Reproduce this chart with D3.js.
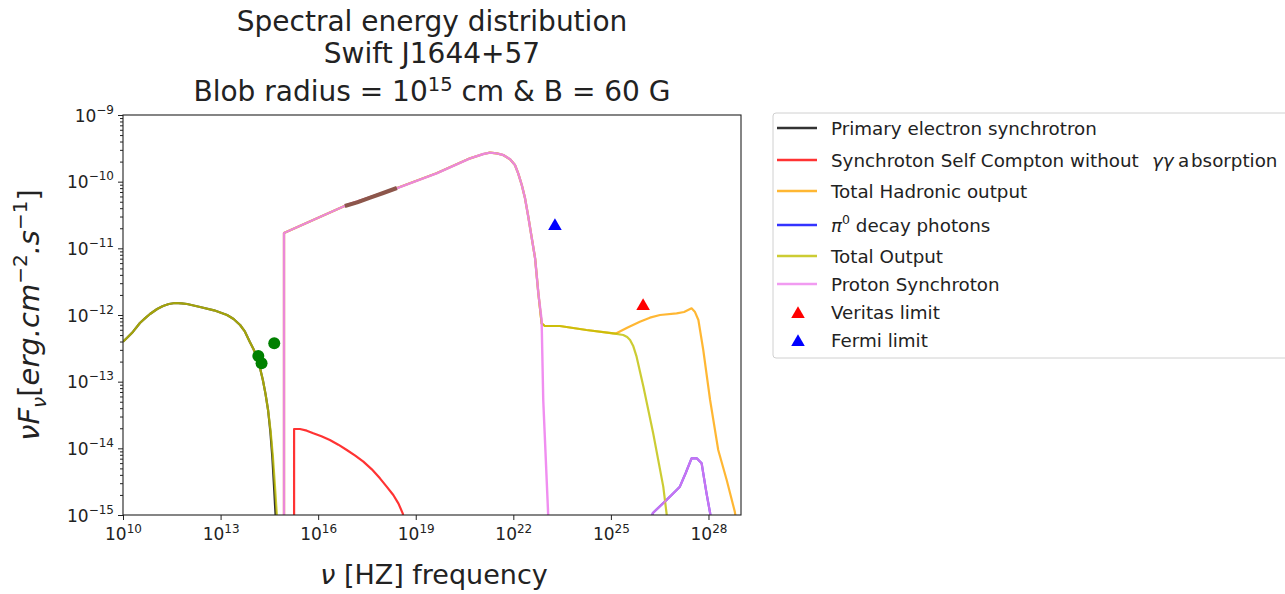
<!DOCTYPE html>
<html><head><meta charset="utf-8">
<script src="https://cdn.jsdelivr.net/npm/d3@7"></script>
<style>body{margin:0;background:#fff;} text{font-family:"DejaVu Sans",sans-serif;fill:#222;}</style>
</head><body>
<svg id="c" width="1285" height="594"></svg>
<script>
// ---- data (log10 frequency [Hz], log10 nuFnu [erg cm^-2 s^-1]) ----
const electronSyncLogNu = [10.00,10.15,10.31,10.52,10.70,10.83,11.05,11.23,11.41,11.60,11.80,11.97,12.37,12.80,13.20,13.40,13.60,13.75,13.90,14.01,14.12,14.21,14.30,14.38,14.46,14.53,14.59,14.64,14.69,14.75];
const electronSyncLogF  = [-12.40,-12.33,-12.25,-12.12,-12.04,-11.985,-11.91,-11.865,-11.835,-11.82,-11.825,-11.835,-11.88,-11.93,-12.00,-12.06,-12.15,-12.25,-12.405,-12.51,-12.63,-12.79,-12.975,-13.18,-13.425,-13.75,-14.13,-14.55,-15.0,-15.6];

const sscLogNu = [15.26,15.26,15.44,15.65,15.85,16.10,16.36,16.62,16.88,17.14,17.39,17.65,17.90,18.10,18.31,18.47,18.60,18.64];
const sscLogF  = [-15.3,-13.71,-13.71,-13.735,-13.775,-13.82,-13.875,-13.945,-14.025,-14.11,-14.20,-14.315,-14.45,-14.57,-14.70,-14.83,-14.975,-15.075];

const hadronicLogNu = [14.95,14.95,16.88,18.41,19.64,20.67,21.08,21.28,21.49,21.69,21.90,22.05,22.15,22.26,22.36,22.46,22.56,22.67,22.77,22.87,22.97,23.43,24.25,25.07,25.17,25.50,25.89,26.20,26.51,27.02,27.25,27.48,27.58,27.69,27.84,28.05,28.30,28.56,28.81,28.87];
const hadronicLogF  = [-15.5,-10.77,-10.35,-10.10,-9.875,-9.65,-9.585,-9.565,-9.575,-9.60,-9.665,-9.75,-9.875,-10.05,-10.25,-10.525,-10.825,-11.15,-11.675,-12.125,-12.165,-12.165,-12.225,-12.275,-12.275,-12.19,-12.10,-12.04,-12.00,-11.975,-11.955,-11.90,-11.95,-12.075,-12.525,-13.275,-14.025,-14.475,-14.95,-15.15];

const pionLogNu = [26.20,26.29,26.71,27.12,27.30,27.48,27.64,27.79,27.94,28.05,28.08];
const pionLogF  = [-15.15,-14.97,-14.775,-14.575,-14.37,-14.15,-14.15,-14.225,-14.675,-14.97,-15.1];

const totalLogNu = [10.00,10.15,10.31,10.52,10.70,10.83,11.05,11.23,11.41,11.60,11.80,11.97,12.37,12.80,13.20,13.40,13.60,13.75,13.90,14.01,14.12,14.21,14.30,14.38,14.46,14.54,14.61,14.67,14.73,14.80,14.95,14.95,16.88,18.41,19.64,20.67,21.08,21.28,21.49,21.69,21.90,22.05,22.15,22.26,22.36,22.46,22.56,22.67,22.77,22.87,22.97,23.43,24.25,25.07,25.38,25.50,25.59,25.69,25.79,26.00,26.30,26.61,26.71,26.75];
const totalLogF  = [-12.40,-12.33,-12.25,-12.12,-12.04,-11.985,-11.91,-11.865,-11.835,-11.82,-11.825,-11.835,-11.88,-11.93,-12.00,-12.06,-12.15,-12.25,-12.405,-12.51,-12.63,-12.79,-12.975,-13.18,-13.425,-13.75,-14.13,-14.55,-15.0,-15.7,-16.5,-10.77,-10.35,-10.10,-9.875,-9.65,-9.585,-9.565,-9.575,-9.60,-9.665,-9.75,-9.875,-10.05,-10.25,-10.525,-10.825,-11.15,-11.675,-12.125,-12.165,-12.165,-12.225,-12.275,-12.30,-12.33,-12.375,-12.47,-12.625,-13.075,-13.775,-14.575,-14.97,-15.15];

const protonLogNu = [14.95,14.95,16.88,18.41,19.64,20.67,21.08,21.28,21.49,21.69,21.90,22.05,22.15,22.26,22.36,22.46,22.56,22.67,22.77,22.87,22.92,23.07,23.10];
const protonLogF  = [-15.5,-10.77,-10.35,-10.10,-9.875,-9.65,-9.585,-9.565,-9.575,-9.60,-9.665,-9.75,-9.875,-10.05,-10.25,-10.525,-10.825,-11.15,-11.675,-12.075,-13.275,-14.975,-15.4];

const xrayLogNu = [16.82,17.2,17.6,18.0,18.42];
const xrayLogF  = [-10.365,-10.31,-10.24,-10.17,-10.095];

const opticalLogNu = [14.16,14.26,14.65];
const opticalLogF  = [-12.615,-12.725,-12.425];

const veritasLogNu = [25.99], veritasLogF = [-11.865];
const fermiLogNu = [23.28], fermiLogF = [-10.665];

const xTickExps = [10,13,16,19,22,25,28];
const yTickExps = [-9,-10,-11,-12,-13,-14,-15];

const legendLabels = ["Primary electron synchrotron","Synchroton Self Compton without  γγ absorption","Total Hadronic output","π0 decay photons","Total Output","Proton Synchroton","Veritas limit","Fermi limit"];

// ---- layout ----
const L = 123, R = 741, T = 115, B = 515;
const svg = d3.select("#c");
const x = d3.scaleLog().domain([1e10, 1e29]).range([L, R]);
const y = d3.scaleLog().domain([1e-15, 1e-9]).range([B, T]);

const pts = (nu, f) => nu.map((v, i) => [Math.pow(10, v), Math.pow(10, f[i])]);

svg.append("defs").append("clipPath").attr("id","clip")
  .append("rect").attr("x",L).attr("y",T).attr("width",R-L).attr("height",B-T);

const line = d3.line().x(d => x(d[0])).y(d => y(d[1]));
const plot = svg.append("g").attr("clip-path","url(#clip)");
function drawLine(data, color, w, op) {
  plot.append("path").attr("d", line(data)).attr("fill","none")
    .attr("stroke", color).attr("stroke-width", w).attr("stroke-opacity", op)
    .attr("stroke-linejoin","round").attr("stroke-linecap","butt");
}
const C = {black:"#000000", red:"#ff0000", orange:"#ffa500", blue:"#0000ff", yel:"#bfbf00", pink:"#ee82ee"};
drawLine(pts(electronSyncLogNu, electronSyncLogF), C.black, 2.2, 0.8);
drawLine(pts(sscLogNu, sscLogF), C.red, 2.2, 0.8);
drawLine(pts(hadronicLogNu, hadronicLogF), C.orange, 2.2, 0.8);
drawLine(pts(pionLogNu, pionLogF), C.blue, 2.2, 0.8);
drawLine(pts(totalLogNu, totalLogF), C.yel, 2.2, 0.8);
drawLine(pts(protonLogNu, protonLogF), C.pink, 2.4, 0.9);
drawLine(pts(pionLogNu, pionLogF), C.pink, 2.2, 0.8);
drawLine(pts(xrayLogNu, xrayLogF), "#8c564b", 4, 1);

plot.selectAll("circle.opt").data(pts(opticalLogNu, opticalLogF)).enter().append("circle")
  .attr("cx", d => x(d[0])).attr("cy", d => y(d[1])).attr("r", 6).attr("fill", "#008000");

const tri = d3.symbol().type(d3.symbolTriangle).size(80);
svg.selectAll("path.ver").data(pts(veritasLogNu, veritasLogF)).enter().append("path")
  .attr("d", tri).attr("transform", d => `translate(${x(d[0])},${y(d[1])})`).attr("fill","red");
svg.selectAll("path.fer").data(pts(fermiLogNu, fermiLogF)).enter().append("path")
  .attr("d", tri).attr("transform", d => `translate(${x(d[0])},${y(d[1])})`).attr("fill","blue");

// ---- axes ----
const xAxis = d3.axisBottom(x).tickValues(xTickExps.map(e => Math.pow(10, e))).tickSize(5).tickFormat("");
const gx = svg.append("g").attr("transform", `translate(0,${B})`).call(xAxis);
gx.select(".domain").remove();
gx.selectAll("line").attr("stroke","#222");
gx.selectAll(".tick").each(function(d, i) {
  const t = d3.select(this).append("text").attr("y", 25).attr("text-anchor","middle").attr("fill","#222").attr("font-size",17);
  t.append("tspan").text("10");
  t.append("tspan").attr("dy",-7).attr("font-size",12).text(xTickExps[i]);
});

const yMinor = [];
for (let e = -15; e < -9; e++) for (let k = 2; k <= 9; k++) yMinor.push(k * Math.pow(10, e));
const gym = svg.append("g").attr("transform", `translate(${L},0)`)
  .call(d3.axisLeft(y).tickValues(yMinor).tickSize(3).tickFormat(""));
gym.select(".domain").remove();
gym.selectAll("line").attr("stroke","#222");

const gy = svg.append("g").attr("transform", `translate(${L},0)`)
  .call(d3.axisLeft(y).tickValues(yTickExps.map(e => Math.pow(10, e))).tickSize(5).tickFormat(""));
gy.select(".domain").remove();
gy.selectAll("line").attr("stroke","#222");
gy.selectAll(".tick").each(function(d, i) {
  const t = d3.select(this).append("text").attr("x", -9).attr("y", 6).attr("text-anchor","end").attr("fill","#222").attr("font-size",17);
  t.append("tspan").text("10");
  t.append("tspan").attr("dy",-8).attr("font-size",12).text("\u2212" + Math.abs(yTickExps[i]));
});

svg.append("rect").attr("x",L).attr("y",T).attr("width",R-L).attr("height",B-T)
  .attr("fill","none").attr("stroke","#222").attr("stroke-width",1.1);

// ---- titles ----
const cx = (L + R) / 2;
svg.append("text").attr("x",cx).attr("y",31).attr("text-anchor","middle").attr("font-size",28).text("Spectral energy distribution");
svg.append("text").attr("x",cx).attr("y",63).attr("text-anchor","middle").attr("font-size",28).text("Swift J1644+57");
const t3 = svg.append("text").attr("x",cx).attr("y",101).attr("text-anchor","middle").attr("font-size",28);
t3.append("tspan").text("Blob radius = 10");
t3.append("tspan").attr("dy",-10).attr("font-size",19.5).text("15");
t3.append("tspan").attr("dy",10).text(" cm & B = 60 G");

const xl = svg.append("text").attr("x",cx + 2).attr("y",584).attr("text-anchor","middle").attr("font-size",27);
xl.append("tspan").attr("font-style","italic").text("ν");
xl.append("tspan").text(" [HZ] frequency");

const yl = svg.append("text").attr("transform","translate(39,315) rotate(-90)").attr("text-anchor","middle").attr("font-size",29).attr("font-style","italic");
yl.append("tspan").text("νF");
yl.append("tspan").attr("dy",7).attr("font-size",20).text("ν");
yl.append("tspan").attr("dy",-7).attr("font-style","normal").text("[");
yl.append("tspan").text("erg.cm");
yl.append("tspan").attr("dy",-12).attr("font-size",20).attr("font-style","normal").text("\u22122");
yl.append("tspan").attr("dy",12).text(".s");
yl.append("tspan").attr("dy",-12).attr("font-size",20).attr("font-style","normal").text("\u22121");
yl.append("tspan").attr("dy",12).attr("font-style","normal").text("]");

// ---- legend ----
const lg = svg.append("g");
lg.append("rect").attr("x",773).attr("y",113).attr("width",530).attr("height",245).attr("rx",3)
  .attr("fill","#fff").attr("stroke","#d0d0d0").attr("stroke-width",1);
const legRowY = [128,160,191,225,256,284,312,340];
const legColors = [C.black, C.red, C.orange, C.blue, C.yel, C.pink];
legendLabels.forEach((lab, i) => {
  const yy = legRowY[i];
  if (i < 6) {
    lg.append("line").attr("x1",777).attr("x2",817).attr("y1",yy).attr("y2",yy)
      .attr("stroke", legColors[i]).attr("stroke-width",2.6).attr("stroke-opacity",0.8);
  } else {
    lg.append("path").attr("d", tri).attr("transform",`translate(798,${yy+2})`).attr("fill", i === 6 ? "red" : "blue");
  }
  const t = lg.append("text").attr("x",831).attr("y",yy+6.5).attr("font-size",18.3);
  if (i === 1) {
    t.append("tspan").text("Synchroton Self Compton without");
    t.append("tspan").attr("x",1152).attr("font-style","italic").text("γγ");
    t.append("tspan").attr("x",1178).text("a");
    t.append("tspan").attr("x",1191).text("bsorption");
  } else if (i === 3) {
    t.append("tspan").attr("font-style","italic").text("π");
    t.append("tspan").attr("dy",-8).attr("font-size",12.5).text("0");
    t.append("tspan").attr("dy",8).text(" decay photons");
  } else {
    t.text(lab);
  }
});
</script>
</body></html>
